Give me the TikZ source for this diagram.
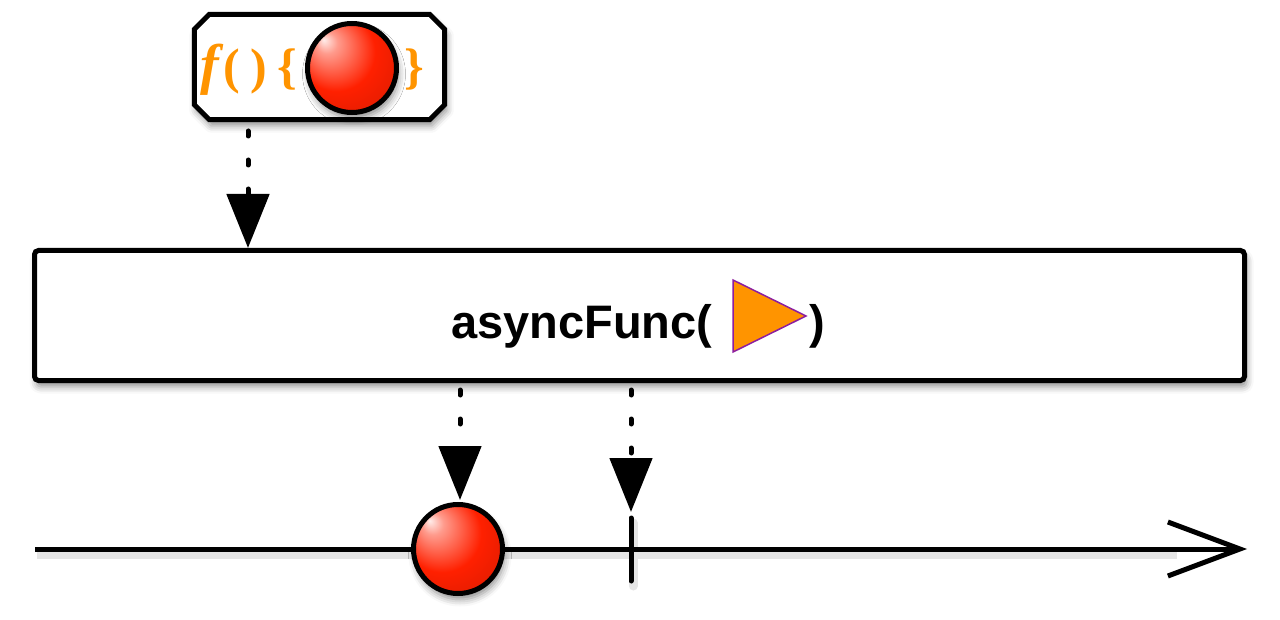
\documentclass[tikz,border=0pt]{standalone}
\usepackage{fontspec}
\setmainfont{Liberation Serif}
\newfontfamily\hsans{Liberation Sans}
\usetikzlibrary{arrows.meta,shadows.blur,calc}
\definecolor{fnorange}{RGB}{255,148,0}
\definecolor{tripurple}{RGB}{140,30,160}
\definecolor{ballred}{RGB}{255,32,0}
\pgfdeclareradialshading{marble}{\pgfpoint{-16bp}{16bp}}{%
  color(0bp)=(white!92!ballred); color(6bp)=(ballred!45!white); color(22bp)=(ballred);
  color(40bp)=(ballred!85!black); color(50bp)=(ballred!55!black)}
\begin{document}
\begin{tikzpicture}[x=1pt,y=-1pt,
  soft/.style={blur shadow={shadow xshift=2pt, shadow yshift=-6pt, shadow blur radius=7pt, shadow opacity=45}},
  shadowline/.style={draw=black!10, line width=9pt},
  opbox/.style={draw, line width=5pt, fill=white, rounded corners=4pt, soft},
  fnbox/.style={draw, line width=5pt, fill=white, line join=miter, soft},
  marble/.style={circle, draw, line width=5pt, inner sep=0pt, minimum size=89pt, shading=marble, soft},
  fntext/.style={text=fnorange, font=\fontsize{50}{50}\selectfont\bfseries, inner sep=0pt, anchor=base west},
  optext/.style={font=\hsans\fontsize{47}{47}\selectfont\bfseries, inner sep=0pt, anchor=base west},
  flowarrow/.style={draw=black, line width=5pt, line cap=round, dash pattern=on 5pt off 24pt, -{Triangle[width=42pt,length=54pt,fill=black]}},
  timeline/.style={line width=5pt, -{Straight Barb[length=72pt,width=54pt,line width=5pt]}},
  tickmark/.style={line width=5pt, line cap=round}
]
\useasboundingbox (0,0) rectangle (1280,620);
% function box
\node[inner sep=0pt, minimum width=250pt, minimum height=105pt] (fbox) at (319.5,67) {};
\begin{scope}
\path[fnbox] ($(fbox.north west)+(15,0)$) -- ($(fbox.north east)+(-15,0)$) -- ($(fbox.north east)+(0,15)$)
  -- ($(fbox.south east)+(0,-15)$) -- ($(fbox.south east)+(-15,0)$) -- ($(fbox.south west)+(15,0)$)
  -- ($(fbox.south west)+(0,-15)$) -- ($(fbox.north west)+(0,15)$) -- cycle;
\end{scope}
\node[fntext, font=\fontsize{56}{56}\selectfont\bfseries\itshape] (ff) at (200,84) {f};
\node[fntext] (lp) at (223,84) {(};
\node[fntext] (rp) at (250,84) {)};
\node[fntext] (lb) at (277,84) {\{};
\node[marble] (ball1) at (352,68) {};
\node[fntext] (rb) at (404,84) {\}};
% operator box
\node[opbox, minimum width=1210pt, minimum height=130pt] (box) at (639.5,315.5) {};
\node[optext] (label) at (451,338) {asyncFunc(};
\coordinate (t1) at (733,280);
\coordinate (t2) at (806,316);
\coordinate (t3) at (733,352);
\draw[fill=fnorange, draw=tripurple, line width=1.5pt, line join=miter] (t1) -- (t2) -- (t3) -- cycle;
\node[optext] (close) at (809,338) {)};
% arrows
\coordinate (a0) at (248,131);
\coordinate (a1) at (248,248);
\draw[flowarrow] (a0) -- (a1);
\coordinate (b0) at (460,390);
\coordinate (b1) at (460,500);
\draw[flowarrow] (b0) -- (b1);
\coordinate (c0) at (631,390);
\coordinate (c1) at (631,512);
\draw[flowarrow] (c0) -- (c1);
% timeline
\coordinate (tl0) at (35,549);
\coordinate (tl1) at (1247,549);
\coordinate (k0) at (631,518);
\coordinate (k1) at (631,581);
\draw[shadowline] ([shift={(2,5)}]tl0) -- ([shift={(-70,5)}]tl1);
\draw[shadowline, line cap=round] ([shift={(2,5)}]k0) -- ([shift={(2,5)}]k1);
\draw[timeline] (tl0) -- (tl1);
\node[marble] (ball2) at (458,549) {};
\draw[tickmark] (k0) -- (k1);
\end{tikzpicture}
\end{document}
